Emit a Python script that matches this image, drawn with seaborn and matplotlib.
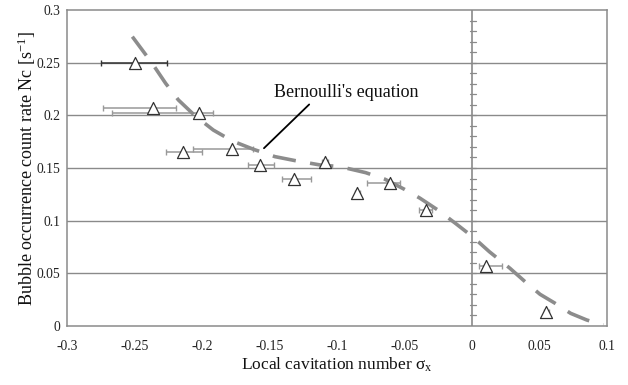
import numpy as np
import pandas as pd
import matplotlib
matplotlib.use("Agg")
import matplotlib.pyplot as plt
import seaborn as sns
from matplotlib.ticker import MultipleLocator

# ---- data ----
sigma = [-0.250, -0.236, -0.202, -0.214, -0.178, -0.157, -0.132, -0.109, -0.085, -0.061, -0.034, 0.010, 0.055]
nc = [0.250, 0.207, 0.202, 0.165, 0.168, 0.153, 0.140, 0.156, 0.126, 0.136, 0.110, 0.057, 0.013]
sigma_lo = [-0.275, -0.273, -0.267, -0.227, -0.207, -0.166, -0.141, -0.111, -0.087, -0.078, -0.039, 0.005, 0.053]
sigma_hi = [-0.226, -0.219, -0.192, -0.200, -0.162, -0.147, -0.119, -0.107, -0.083, -0.053, -0.030, 0.022, 0.057]

curve_x = [-0.2516, -0.237, -0.227, -0.2175, -0.205, -0.1916, -0.1776, -0.162, -0.146, -0.131,
           -0.1126, -0.0978, -0.0788, -0.0644, -0.0501, -0.0385, -0.0254, -0.0123, 0.001,
           0.0128, 0.0281, 0.0393, 0.0504, 0.0615, 0.0731, 0.085, 0.0973]
curve_y = [0.2747, 0.2495, 0.2305, 0.2146, 0.1994, 0.186, 0.1757, 0.1678, 0.1608, 0.157,
           0.1529, 0.1513, 0.1456, 0.1393, 0.1298, 0.1213, 0.1102, 0.0975, 0.0842,
           0.0706, 0.0548, 0.0421, 0.0301, 0.0216, 0.012, 0.0057, 0.001]

xticks = [-0.3, -0.25, -0.2, -0.15, -0.1, -0.05, 0, 0.05, 0.1]
xticklabels = ["-0.3", "-0.25", "-0.2", "-0.15", "-0.1", "-0.05", "0", "0.05", "0.1"]
yticks = [0, 0.05, 0.1, 0.15, 0.2, 0.25, 0.3]
yticklabels = ["0", "0.05", "0.1", "0.15", "0.2", "0.25", "0.3"]

sns.set_theme(style="white")
plt.rcParams["font.family"] = ["Liberation Serif", "DejaVu Serif"]
plt.rcParams["mathtext.fontset"] = "custom"
plt.rcParams["mathtext.rm"] = "Liberation Serif"
plt.rcParams["mathtext.it"] = "Liberation Serif:italic"
plt.rcParams["axes.unicode_minus"] = False

fig = plt.figure(figsize=(6.28, 3.85), dpi=100)
ax = fig.add_axes([67 / 628, 59 / 385, 540 / 628, 316 / 385])

frame_col = "#8a8a8a"
# horizontal gridlines
for yv in yticks[1:-1]:
    ax.axhline(yv, color=frame_col, lw=1.0, zorder=1)
# vertical axis line at 0 with minor ticks
ax.axvline(0, color=frame_col, lw=1.2, zorder=1)
for yv in np.arange(0.01, 0.3, 0.01):
    ax.plot([-0.0015, 0.003], [yv, yv], color=frame_col, lw=0.9, zorder=1)

# error bars
df = pd.DataFrame({"sigma": sigma, "nc": nc, "lo": sigma_lo, "hi": sigma_hi})
xerr = np.array([df["sigma"] - df["lo"], df["hi"] - df["sigma"]])
ecolors = ["#333333"] + ["#999999"] * (len(df) - 1)
for i in range(len(df)):
    ax.errorbar(df["sigma"][i], df["nc"][i], xerr=xerr[:, i:i + 1], fmt="none",
                ecolor=ecolors[i], elinewidth=1.1, capsize=2.5, capthick=1.0, zorder=2)

# Bernoulli curve
cdf = pd.DataFrame({"x": curve_x, "y": curve_y})
sns.lineplot(data=cdf, x="x", y="y", sort=False, ax=ax, color="#8c8c8c", lw=2.6,
             linestyle=(0, (6.5, 4)), zorder=3)

# data points
sns.scatterplot(data=df, x="sigma", y="nc", ax=ax, marker="^", s=75,
                facecolor="white", edgecolor="#333333", linewidth=0.9, zorder=4)

# annotation
ax.annotate("Bernoulli's equation", xy=(-0.1541, 0.1688), xytext=(-0.147, 0.2215),
            fontsize=13, color="#111111", ha="left", va="center",
            arrowprops=dict(arrowstyle="-", color="black", lw=1.3, shrinkA=0, shrinkB=0,
                            relpos=(0.27, 0.0)))

ax.set_xlim(-0.3, 0.1)
ax.set_ylim(0, 0.3)
ax.set_xticks(xticks)
ax.set_xticklabels(xticklabels, fontsize=9.8)
ax.set_yticks(yticks)
ax.set_yticklabels(yticklabels, fontsize=9.8)
ax.xaxis.set_minor_locator(MultipleLocator(0.01))
ax.tick_params(axis="x", which="both", direction="in", length=4, width=0.9,
               color=frame_col, pad=10, labelcolor="#222222")
ax.tick_params(axis="y", which="both", length=0, pad=5, labelcolor="#222222")
for sp in ax.spines.values():
    sp.set_color(frame_col)
    sp.set_linewidth(1.1)

ax.set_xlabel("Local cavitation number σ$_\\mathrm{x}$", fontsize=12.5, color="#111111", labelpad=2)
ax.set_ylabel("Bubble occurrence count rate Nc [s$^{\\mathrm{-1}}$]", fontsize=13, color="#111111", labelpad=-1)

fig.savefig("out.png", dpi=100)
